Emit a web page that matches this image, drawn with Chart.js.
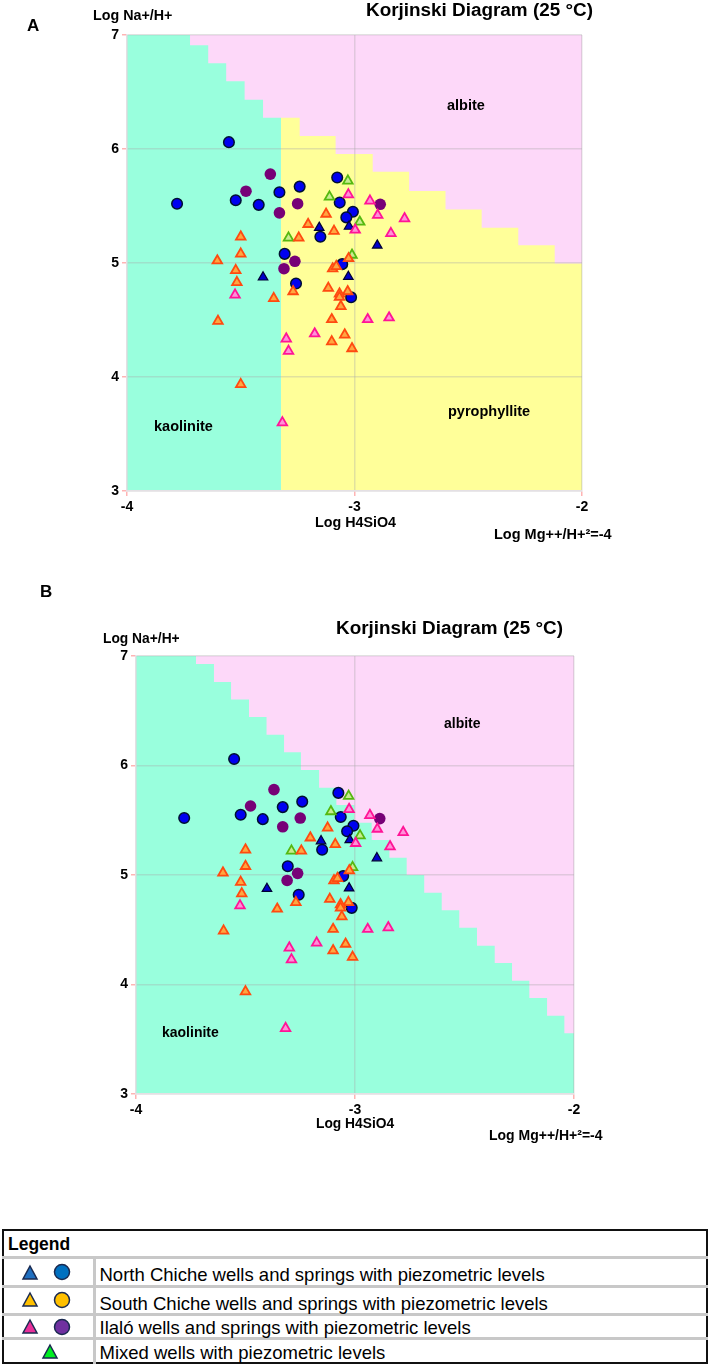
<!DOCTYPE html>
<html>
<head>
<meta charset="utf-8">
<script src="https://cdn.jsdelivr.net/npm/chart.js@4"></script>
<style>
  html, body { margin: 0; padding: 0; background: #fff; }
  body { position: relative; width: 710px; height: 1366px; overflow: hidden; font-family: "Liberation Sans", Arial, sans-serif; color: #000; }
  canvas { position: absolute; left: 0; }
  .t { position: absolute; font-weight: bold; white-space: nowrap; line-height: 1; }
  table { position: absolute; left: 2px; top: 1229px; width: 706px; height: 135px; border: 2px solid #111; border-collapse: collapse; box-sizing: border-box; table-layout: fixed; }
  td { border-top: 3px solid #c8c8c8; padding: 5px 0 0 4px; font-size: 18.5px; line-height: 16px; white-space: nowrap; }
  td.m { border-right: 3px solid #c8c8c8; padding: 0; position: relative; }
  td.h { border-top: 0; padding-top: 2px; font-weight: bold; font-size: 17.5px; }
  svg { position: absolute; left: 0; top: 0; }
</style>
</head>
<body>
<canvas id="chartA" width="710" height="560" style="top:0"></canvas>
<canvas id="chartB" width="710" height="620" style="top:560px"></canvas>

<div class="t" style="left:27px;top:17px;font-size:17px">A</div>
<div class="t" style="left:93px;top:8px;font-size:14.3px">Log Na+/H+</div>
<div class="t" style="left:366px;top:1px;font-size:18.9px">Korjinski Diagram (25 °C)</div>
<div class="t" style="left:447px;top:98px;font-size:14.5px">albite</div>
<div class="t" style="left:448px;top:404px;font-size:14.5px">pyrophyllite</div>
<div class="t" style="left:154px;top:419px;font-size:14.5px">kaolinite</div>
<div class="t" style="left:315px;top:515px;font-size:14.3px">Log H4SiO4</div>
<div class="t" style="left:494px;top:527px;font-size:14.5px">Log Mg++/H+²=-4</div>

<div class="t" style="left:40px;top:583px;font-size:17px">B</div>
<div class="t" style="left:103px;top:632px;font-size:13.8px">Log Na+/H+</div>
<div class="t" style="left:336px;top:619px;font-size:18.9px">Korjinski Diagram (25 °C)</div>
<div class="t" style="left:444px;top:716px;font-size:14px">albite</div>
<div class="t" style="left:162px;top:1025px;font-size:14px">kaolinite</div>
<div class="t" style="left:316px;top:1117px;font-size:13.8px">Log H4SiO4</div>
<div class="t" style="left:489px;top:1128px;font-size:14px">Log Mg++/H+²=-4</div>

<table>
  <colgroup><col style="width:91px"><col></colgroup>
  <tr style="height:27px"><td class="h" colspan="2">Legend</td></tr>
  <tr style="height:29px"><td class="m"><svg width="90" height="26"><polygon points="26,7 33,20 19,20" fill="#1f6fc0" stroke="#1a2a50" stroke-width="1.5"/><circle cx="58" cy="13" r="7.5" fill="#0070c0" stroke="#1a2a50" stroke-width="1.5"/></svg></td><td style="padding-top:6px">North Chiche wells and springs with piezometric levels</td></tr>
  <tr style="height:28px"><td class="m"><svg width="90" height="26"><polygon points="26,5 33,18 19,18" fill="#ffc000" stroke="#1a2a50" stroke-width="1.5"/><circle cx="58" cy="12" r="7.5" fill="#ffc000" stroke="#1a2a50" stroke-width="1.5"/></svg></td><td style="padding-top:8px">South Chiche wells and springs with piezometric levels</td></tr>
  <tr style="height:24px"><td class="m"><svg width="90" height="24"><polygon points="26,4 33,17 19,17" fill="#e8309a" stroke="#1a2a50" stroke-width="1.5"/><circle cx="58" cy="11" r="7.5" fill="#7030a0" stroke="#1a2a50" stroke-width="1.5"/></svg></td><td style="padding-top:3px">Ilaló wells and springs with piezometric levels</td></tr>
  <tr style="height:25px"><td class="m"><svg width="90" height="24"><polygon points="46,5 53,18 39,18" fill="#00ee22" stroke="#1a2a50" stroke-width="1.5"/></svg></td><td style="padding-top:4px">Mixed wells with piezometric levels</td></tr>
</table>

<script>
//Pontos das amostras (Log H4SiO4, Log Na+/H+), iguais nos dois painéis
const blueCircleX = [-3.552, -3.78, -3.522, -3.421, -3.33, -3.241, -3.076, -3.065, -3.007, -3.036, -3.15, -3.307, -3.054, -3.257, -3.015];
const blueCircleY = [6.06, 5.52, 5.55, 5.51, 5.62, 5.67, 5.75, 5.53, 5.45, 5.40, 5.23, 5.08, 4.99, 4.82, 4.70];
const purpleX = [-3.37, -3.477, -3.25, -3.33, -2.887, -3.262, -3.31];
const purpleY = [5.78, 5.63, 5.52, 5.44, 5.515, 5.015, 4.95];
const blueTriX = [-3.155, -3.024, -2.90, -3.402, -3.027];
const blueTriY = [5.31, 5.32, 5.155, 4.875, 4.88];
const greenX = [-3.029, -3.11, -2.977, -3.29, -3.011];
const greenY = [5.72, 5.58, 5.36, 5.22, 5.07];
const pinkX = [-3.027, -2.932, -2.898, -2.78, -2.997, -2.84, -3.525, -2.942, -2.848, -3.175, -3.30, -3.29, -3.317];
const pinkY = [5.60, 5.545, 5.42, 5.39, 5.29, 5.26, 4.72, 4.505, 4.52, 4.38, 4.335, 4.227, 3.60];
const orangeX = [-3.125, -3.204, -3.09, -3.245, -3.50, -3.50, -3.603, -3.522, -3.517, -3.355, -3.27, -3.60, -3.50, -3.115, -3.03, -3.066, -3.066, -3.06, -3.10, -3.043, -3.10, -3.011, -3.096, -3.08, -3.026];
const orangeY = [5.43, 5.34, 5.28, 5.22, 5.23, 5.08, 5.02, 4.935, 4.83, 4.69, 4.75, 4.49, 3.935, 4.78, 4.75, 4.73, 4.70, 4.62, 4.505, 4.37, 4.31, 4.25, 4.95, 4.97, 5.04];

//Limites dos campos de estabilidade (degraus)
const kaoliniteAX = [-4, -3.723, -3.643, -3.564, -3.483, -3.402, -3.323];
const kaoliniteAY = [7, 6.91, 6.752, 6.594, 6.432, 6.275, 6.275];
const pyrophylliteAX = [-3.323, -3.241, -3.083, -2.92, -2.76, -2.60, -2.441, -2.28, -2.12, -2];
const pyrophylliteAY = [6.275, 6.114, 5.956, 5.80, 5.632, 5.47, 5.31, 5.156, 4.995, 4.995];
const kaoliniteBX = [-4, -3.726, -3.644, -3.566, -3.484, -3.404, -3.324, -3.247, -3.164, -3.085, -3.003, -2.924, -2.843, -2.764, -2.684, -2.604, -2.524, -2.443, -2.362, -2.283, -2.204, -2.123, -2.044, -2];
const kaoliniteBY = [7, 6.927, 6.763, 6.603, 6.443, 6.281, 6.121, 5.959, 5.797, 5.639, 5.478, 5.32, 5.158, 5.0, 4.838, 4.678, 4.519, 4.354, 4.196, 4.035, 3.877, 3.715, 3.554, 3.554];
const albiteX = [-4, -2];
const albiteY = [7, 7];

const toPoints = (xs, ys) => xs.map((x, i) => ({ x: x, y: ys[i] }));

//Conjunto de marcadores
const markers = (xs, ys, style, fill, border, width, radius) => ({
  data: toPoints(xs, ys),
  pointStyle: style,
  pointBackgroundColor: fill,
  pointBorderColor: border,
  pointBorderWidth: width,
  pointRadius: radius,
  showLine: false,
});

//Campo colorido preenchido até a base do gráfico
const zone = (xs, ys, color) => ({
  data: toPoints(xs, ys),
  showLine: true,
  stepped: true,
  borderWidth: 0,
  pointRadius: 0,
  backgroundColor: color,
  fill: "start",
});

const axis = (min, max, size, isX) => ({
  type: "linear",
  min: min,
  max: max,
  afterFit: (scale) => {
    if (isX) scale.height = size;
    else scale.width = size;
  },
  ticks: {
    stepSize: 1,
    color: "#000",
    padding: 3,
    maxRotation: 0,
    font: { family: "Liberation Sans", size: 14, weight: "bold" },
  },
  grid: { color: "rgba(170,170,170,0.35)", lineWidth: 1.5, tickColor: "#ffb4b4", tickLength: 5 },
  border: { color: "#e4e0e4", width: 1.5 },
});

const panel = (id, zones, left, right, top, bottom) => {
  let ctx = document.getElementById(id).getContext("2d");
  new Chart(ctx, {
    type: "scatter",
    data: {
      //o primeiro conjunto fica por cima
      datasets: [
        markers(orangeX, orangeY, "triangle", "#ffa640", "#ff4a10", 1.8, 5.5),
        markers(pinkX, pinkY, "triangle", "#ff90d8", "#ff1496", 1.8, 5.5),
        markers(greenX, greenY, "triangle", "#c8ec90", "#55b810", 1.8, 5.5),
        markers(blueTriX, blueTriY, "triangle", "#0000cc", "#000033", 1.2, 5.5),
        markers(blueCircleX, blueCircleY, "circle", "#0000f0", "#001030", 1.5, 5.3),
        markers(purpleX, purpleY, "circle", "#770077", "#770077", 0, 5.8),
      ].concat(zones),
    },
    options: {
      responsive: false,
      animation: false,
      layout: { padding: { left: 0, right: right, top: top, bottom: 0 } },
      scales: { x: axis(-4, -2, bottom, true), y: axis(3, 7, left, false) },
      plugins: {
        legend: { display: false },
        tooltip: { enabled: false },
        filler: { drawTime: "beforeDraw" },
      },
    },
  });
};

panel("chartA", [
  zone(kaoliniteAX, kaoliniteAY, "#99ffdd"),
  zone(pyrophylliteAX, pyrophylliteAY, "#ffff99"),
  zone(albiteX, albiteY, "#fdd8f9"),
], 127, 128, 35, 69);

panel("chartB", [
  zone(kaoliniteBX, kaoliniteBY, "#99ffdd"),
  zone(albiteX, albiteY, "#fdd8f9"),
], 136, 136, 96, 86);
</script>
</body>
</html>
